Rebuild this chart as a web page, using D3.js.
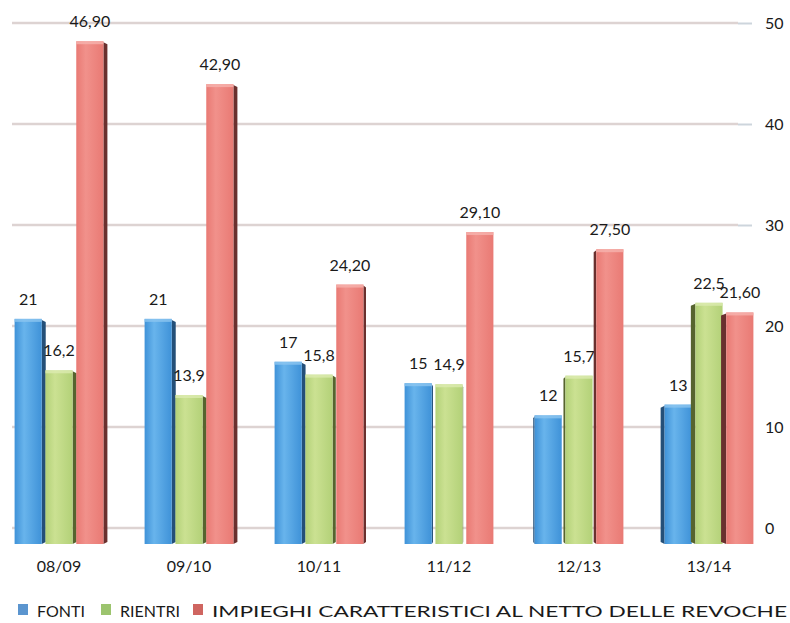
<!DOCTYPE html>
<html>
<head>
<meta charset="utf-8">
<script src="https://cdn.jsdelivr.net/npm/d3@7"></script>
<style>
  body { margin: 0; background: #fff; }
  text { font-family: Lato, "Open Sans", sans-serif; fill: #1a1a1a; }
</style>
</head>
<body>
<div id="chart"></div>
<script>
var categories = ["08/09", "09/10", "10/11", "11/12", "12/13", "13/14"];
var series = ["FONTI", "RIENTRI", "IMPIEGHI CARATTERISTICI AL NETTO DELLE REVOCHE"];
var fonti = [21, 21, 17, 15, 12, 13];
var rientri = [16.2, 13.9, 15.8, 14.9, 15.7, 22.5];
var impieghi = [46.9, 42.9, 24.2, 29.1, 27.5, 21.6];
var yTicks = [0, 10, 20, 30, 40, 50];

var width = 790, height = 623;

var colors = {
    "FONTI": { light: "#68b4ec", main: "#3f92d8", side: "#244f78", top: "#8cc6f0" },
    "RIENTRI": { light: "#cbe192", main: "#b3d178", side: "#56642e", top: "#dcebb0" },
    "IMPIEGHI CARATTERISTICI AL NETTO DELLE REVOCHE": { light: "#f1918b", main: "#e97a74", side: "#6a302e", top: "#f6b3ae" }
};
var legendColors = ["#5b95cf", "#9cc46e", "#cf6560"];

var rows = categories.map(function (c, i) {
    return { cat: c, values: [fonti[i], rientri[i], impieghi[i]] };
});

var svg = d3.select("#chart")
    .append("svg")
    .attr("width", width)
    .attr("height", height);

var defs = svg.append("defs");
series.forEach(function (s, i) {
    var g = defs.append("linearGradient")
        .attr("id", "grad" + i)
        .attr("x1", "0").attr("x2", "1").attr("y1", "0").attr("y2", "0");
    g.append("stop").attr("offset", "0").attr("stop-color", colors[s].main);
    g.append("stop").attr("offset", "0.35").attr("stop-color", colors[s].light);
    g.append("stop").attr("offset", "1").attr("stop-color", colors[s].main);
});

// grid scale and bar scale differ a bit (the original is a 3d perspective)
var yGrid = d3.scaleLinear().domain([0, 50]).range([528, 23]);
var yBar = d3.scaleLinear().domain([0, 50]).range([544, 8]);

var x0 = d3.scaleBand()
    .domain(categories)
    .range([-6, 774])
    .paddingInner(0.26)
    .paddingOuter(0.13);

var x1 = d3.scaleBand()
    .domain(d3.range(series.length))
    .range([0, x0.bandwidth()])
    .padding(0.12);

// gridlines
svg.append("g")
    .selectAll("line")
    .data(yTicks)
    .enter().append("line")
    .attr("x1", 12)
    .attr("x2", 738)
    .attr("y1", function (d) { return yGrid(d); })
    .attr("y2", function (d) { return yGrid(d); })
    .attr("stroke", "#ddd3d2")
    .attr("stroke-width", 2.5);

// right axis
var yAxis = d3.axisRight(yGrid)
    .tickValues(yTicks)
    .tickSize(14)
    .tickPadding(13);

var axisG = svg.append("g")
    .attr("transform", "translate(738,0)")
    .call(yAxis);
axisG.select(".domain").remove();
axisG.selectAll(".tick line").attr("stroke", "#cdd5dc").attr("stroke-width", 2);
axisG.selectAll(".tick text")
    .attr("font-size", 16)
    .attr("font-family", "Lato, sans-serif")
    .attr("fill", "#1a1a1a");

function fmt(i, v) {
    var f = i === 0 ? d3.format("d") : (i === 1 ? d3.format(".1f") : d3.format(".2f"));
    return f(v).replace(".", ",");
}

var groups = svg.selectAll(".group")
    .data(rows)
    .enter().append("g")
    .attr("class", "group")
    .attr("transform", function (d) { return "translate(" + x0(d.cat) + ",0)"; });

groups.each(function (row) {
    var g = d3.select(this);
    var gx = x0(row.cat);
    row.values.forEach(function (v, i) {
        var bx = x1(i), bw = x1.bandwidth();
        var top = yBar(v), bottom = yBar(0);
        var cx = gx + bx + bw / 2;
        var side = Math.max(-6, Math.min(4, (480 - cx) * 0.02));
        var c = colors[series[i]];
        // side face
        if (side > 0) {
            g.append("path")
                .attr("d", "M" + (bx + bw) + "," + (top + 1) + "L" + (bx + bw + side) + "," + (top + 3) +
                    "L" + (bx + bw + side) + "," + (bottom - 2) + "L" + (bx + bw) + "," + bottom + "Z")
                .attr("fill", c.side);
        } else {
            g.append("path")
                .attr("d", "M" + bx + "," + (top + 1) + "L" + (bx + side) + "," + (top + 3) +
                    "L" + (bx + side) + "," + (bottom - 2) + "L" + bx + "," + bottom + "Z")
                .attr("fill", c.side);
        }
        // front face
        g.append("rect")
            .attr("x", bx)
            .attr("y", top)
            .attr("width", bw)
            .attr("height", bottom - top)
            .attr("fill", "url(#grad" + i + ")");
        // top face
        g.append("rect")
            .attr("x", bx)
            .attr("y", top)
            .attr("width", bw)
            .attr("height", 3)
            .attr("fill", c.top)
            .attr("opacity", 0.8);
        // value label
        g.append("text")
            .attr("x", bx + bw / 2)
            .attr("y", top - 14)
            .attr("text-anchor", "middle")
            .attr("font-size", 16)
            .text(fmt(i, v));
    });
});

// category labels
svg.append("g")
    .selectAll("text")
    .data(categories)
    .enter().append("text")
    .attr("x", function (d) { return x0(d) + x0.bandwidth() / 2; })
    .attr("y", 572)
    .attr("text-anchor", "middle")
    .attr("font-size", 16)
    .text(function (d) { return d; });

// legend
var legendX = [18, 101, 193];
var legend = svg.append("g");
series.forEach(function (s, i) {
    legend.append("rect")
        .attr("x", legendX[i])
        .attr("y", 604)
        .attr("width", 10)
        .attr("height", 11)
        .attr("fill", legendColors[i]);
    var t = legend.append("text")
        .attr("x", legendX[i] + 19)
        .attr("y", 617)
        .attr("font-size", 16)
        .text(s);
    if (i === 2) t.attr("textLength", 575).attr("lengthAdjust", "spacingAndGlyphs");
});
</script>
</body>
</html>
